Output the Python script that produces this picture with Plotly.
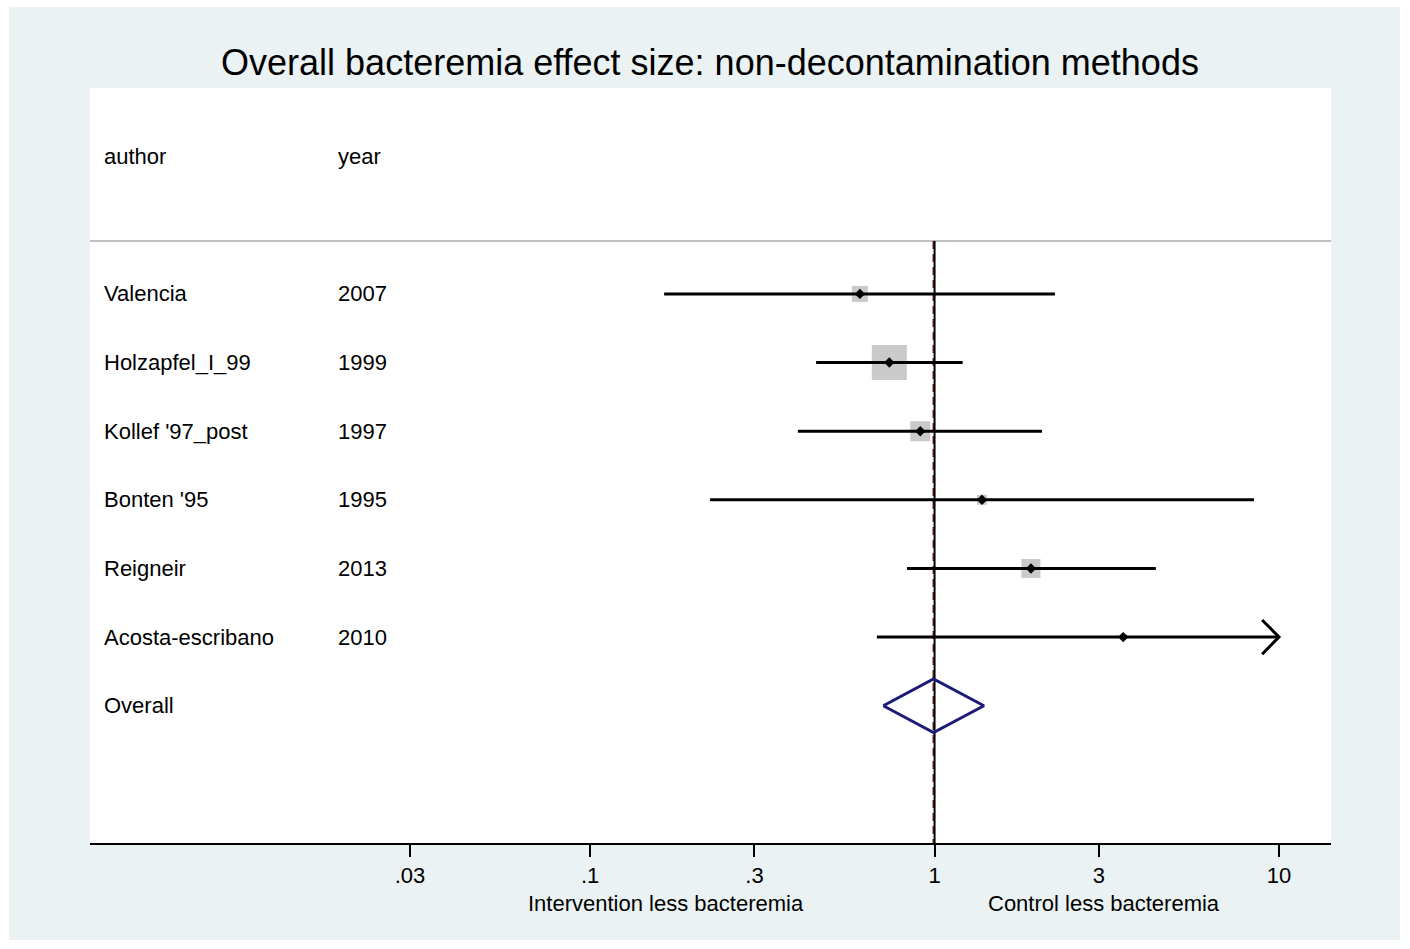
import numpy as np
import plotly.graph_objects as go

# ---------------- data ----------------
authors = ["Valencia", "Holzapfel_I_99", "Kollef '97_post", "Bonten '95", "Reigneir", "Acosta-escribano"]
years = ["2007", "1999", "1997", "1995", "2013", "2010"]
es = [0.607, 0.739, 0.909, 1.373, 1.905, 3.53]
ci_lo = [0.164, 0.453, 0.401, 0.223, 0.832, 0.680]
ci_hi = [2.237, 1.207, 2.05, 8.46, 4.39, 14.0]
weights = [10.8, 51.5, 16.8, 4.2, 15.2, 1.5]
overall_es = 0.993
overall_lo = 0.710
overall_hi = 1.391

tick_vals = [0.03, 0.1, 0.3, 1, 3, 10]
tick_text = [".03", ".1", ".3", "1", "3", "10"]
title = "Overall bacteremia effect size: non-decontamination methods"
left_label = "Intervention less bacteremia"
right_label = "Control less bacteremia"

# ---------------- layout constants ----------------
W, H = 1410, 949
L, R, T, B = 90, 79, 88, 106
FONT = "Liberation Sans, Arial, sans-serif"
PANEL = "#EAF2F3"
x_range = [-2.452, 1.151]
y_range = [-8, 3]
x_cap = 10
rows = [-i for i in range(len(authors))]
overall_row = -len(authors)
sep_y = 0.77
header_y = 2

fig = go.Figure()

# dashed overall line and solid null line
fig.add_trace(go.Scatter(x=[overall_es, overall_es], y=[sep_y, y_range[0]], mode="lines",
                         line=dict(color="#7a2a2a", width=2, dash="8px,5px"), hoverinfo="skip"))
fig.add_trace(go.Scatter(x=[1, 1], y=[sep_y, y_range[0]], mode="lines",
                         line=dict(color="black", width=2), hoverinfo="skip"))

# weight squares
sizes = [4.88 * np.sqrt(w) for w in weights]
fig.add_trace(go.Scatter(x=es, y=rows, mode="markers",
                         marker=dict(symbol="square", size=sizes, color="#b4b4b4", line=dict(width=0)),
                         hoverinfo="skip"))

# CI lines
for lo, hi, r in zip(ci_lo, ci_hi, rows):
    fig.add_trace(go.Scatter(x=[lo, min(hi, x_cap)], y=[r, r], mode="lines",
                             line=dict(color="black", width=3), hoverinfo="skip"))
    if hi > x_cap:
        arm = 10 ** (np.log10(x_cap) - 0.049)
        fig.add_trace(go.Scatter(x=[arm, x_cap, arm], y=[r + 0.25, r, r - 0.25], mode="lines",
                                 line=dict(color="black", width=3), hoverinfo="skip"))

# point estimates
fig.add_trace(go.Scatter(x=es, y=rows, mode="markers",
                         marker=dict(symbol="diamond", size=8, color="black", line=dict(width=0)),
                         hoverinfo="skip"))

# overall diamond
dh = 0.39
fig.add_trace(go.Scatter(x=[overall_lo, overall_es, overall_hi, overall_es, overall_lo],
                         y=[overall_row, overall_row + dh, overall_row, overall_row - dh, overall_row],
                         mode="lines", line=dict(color="#1c1c78", width=3), hoverinfo="skip"))

# left text columns
ann = []
lab_font = dict(family=FONT, size=22, color="black")
pw = W - L - R
ph = H - T - B
ax_author = (102 - L) / pw
ax_year = (336 - L) / pw
ann.append(dict(x=ax_author, y=header_y, xref="paper", yref="y", text="author", showarrow=False,
                xanchor="left", yanchor="middle", font=lab_font))
ann.append(dict(x=ax_year, y=header_y, xref="paper", yref="y", text="year", showarrow=False,
                xanchor="left", yanchor="middle", font=lab_font))
for a, yv, r in zip(authors, years, rows):
    ann.append(dict(x=ax_author, y=r, xref="paper", yref="y", text=a, showarrow=False,
                    xanchor="left", yanchor="middle", font=lab_font))
    ann.append(dict(x=ax_year, y=r, xref="paper", yref="y", text=yv, showarrow=False,
                    xanchor="left", yanchor="middle", font=lab_font))
ann.append(dict(x=ax_author, y=overall_row, xref="paper", yref="y", text="Overall", showarrow=False,
                xanchor="left", yanchor="middle", font=lab_font))

ann.append(dict(x=(666 - L) / pw, y=(H - B - 903) / ph, xref="paper", yref="paper", text=left_label,
                showarrow=False, xanchor="center", yanchor="middle", font=lab_font))
ann.append(dict(x=(1103.5 - L) / pw, y=(H - B - 903) / ph, xref="paper", yref="paper", text=right_label,
                showarrow=False, xanchor="center", yanchor="middle", font=lab_font))

# shapes: separator and outer white border
shapes = [dict(type="line", xref="paper", yref="y", x0=0, x1=1, y0=sep_y, y1=sep_y,
               line=dict(color="#c0c0c0", width=2), layer="below")]

def px2paper_x(px):
    return (px - L) / pw

def px2paper_y(py):
    return (H - B - py) / ph

for (x0, y0, x1, y1) in [(0, 0, 9, H), (1400, 0, W, H), (0, 0, W, 7), (0, 940, W, H)]:
    shapes.append(dict(type="rect", xref="paper", yref="paper",
                       x0=px2paper_x(x0), x1=px2paper_x(x1), y0=px2paper_y(y1), y1=px2paper_y(y0),
                       fillcolor="white", line=dict(width=0), layer="above"))

fig.update_layout(
    width=W, height=H,
    margin=dict(l=L, r=R, t=T, b=B, pad=0),
    paper_bgcolor=PANEL, plot_bgcolor="white",
    showlegend=False,
    title=dict(text=title, x=(710 - L) / pw, xref="paper", xanchor="center",
               y=1 - 62 / H, yref="container", yanchor="middle",
               font=dict(family=FONT, size=36, color="black")),
    annotations=ann, shapes=shapes,
    xaxis=dict(type="log", range=x_range, tickvals=tick_vals, ticktext=tick_text,
               ticks="outside", ticklen=12, tickwidth=2, tickcolor="black",
               showline=True, linecolor="black", linewidth=2, mirror=False,
               showgrid=False, zeroline=False,
               tickfont=dict(family=FONT, size=22, color="black"), ticklabelstandoff=0),
    yaxis=dict(range=y_range, visible=False, showgrid=False, zeroline=False),
)

fig.write_html("out.html")
